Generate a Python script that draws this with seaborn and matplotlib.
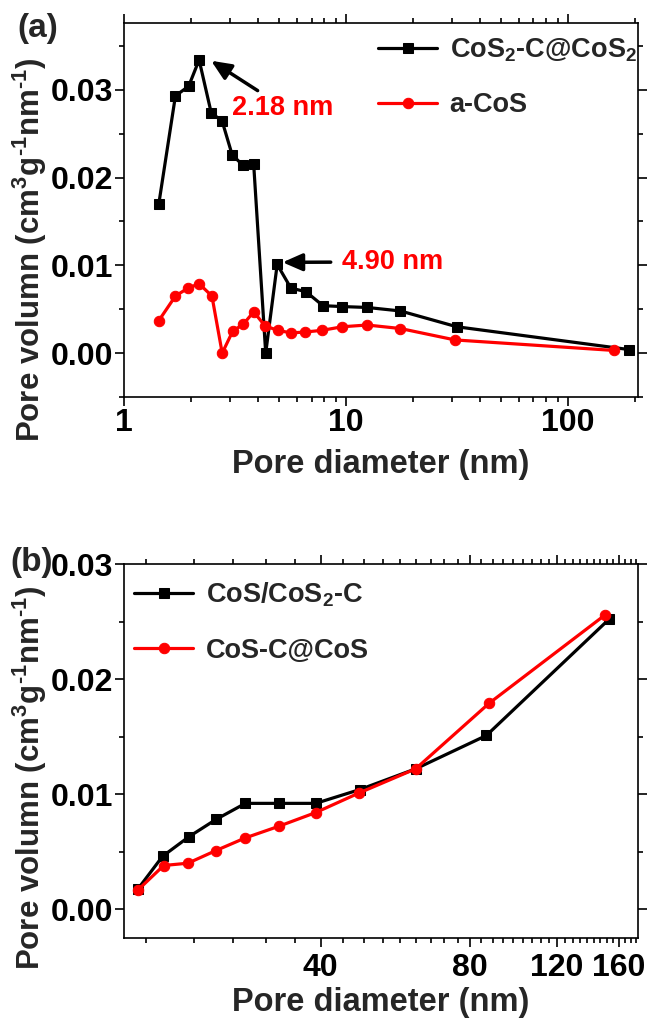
import numpy as np
import pandas as pd
import matplotlib
matplotlib.use("Agg")
import matplotlib.pyplot as plt
import matplotlib.ticker as mticker
import seaborn as sns

# ---------------- data ----------------
# panel (a)
a_black_label = r"CoS$_{2}$-C@CoS$_{2}$"
a_black_x = [1.435, 1.705, 1.956, 2.18, 2.47, 2.77, 3.07, 3.43, 3.84, 4.35, 4.90,
             5.65, 6.6, 7.88, 9.63, 12.46, 17.6, 31.6, 189]
a_black_y = [0.0170, 0.0293, 0.0304, 0.0334, 0.0274, 0.0264, 0.0226, 0.0214, 0.0215,
             0.0000, 0.0101, 0.0074, 0.0070, 0.0054, 0.0053, 0.0052, 0.0048, 0.0030, 0.0004]
a_red_label = "a-CoS"
a_red_x = [1.435, 1.705, 1.94, 2.18, 2.49, 2.77, 3.09, 3.45, 3.84, 4.32, 4.92,
           5.65, 6.55, 7.83, 9.63, 12.46, 17.6, 31.0, 162]
a_red_y = [0.0037, 0.0065, 0.0074, 0.0079, 0.0065, 0.0000, 0.0025, 0.0033, 0.0047,
           0.0031, 0.0026, 0.0023, 0.0024, 0.0026, 0.0030, 0.0032, 0.0028, 0.0015, 0.0003]

# panel (b)
b_black_label = r"CoS/CoS$_{2}$-C"
b_black_x = [17.15, 19.2, 21.7, 24.6, 28.2, 32.9, 39.1, 48.0, 62.2, 86.4, 152.7]
b_black_y = [0.0018, 0.0046, 0.0063, 0.0078, 0.0092, 0.0092, 0.0092, 0.0104, 0.0122, 0.0151, 0.0252]
b_red_label = "CoS-C@CoS"
b_red_x = [17.15, 19.3, 21.6, 24.6, 28.2, 32.9, 39.1, 47.8, 62.2, 87.5, 150.2]
b_red_y = [0.0017, 0.0038, 0.0040, 0.0051, 0.0062, 0.0072, 0.0084, 0.0101, 0.0122, 0.0179, 0.0256]

a_yticks = [0.00, 0.01, 0.02, 0.03]
b_yticks = [0.00, 0.01, 0.02, 0.03]
a_xticks = [1, 10, 100]
b_xticks = [40, 80, 120, 160]

xlabel = "Pore diameter (nm)"
ylabel = "Pore volumn (cm$^{3}$g$^{\u2010 1}$nm$^{\u2010 1}$)".replace(" 1}", "1}")

# ---------------- style ----------------
sns.set_style("ticks")
plt.rcParams["font.family"] = ["Liberation Sans", "DejaVu Sans"]
plt.rcParams["font.weight"] = "bold"
plt.rcParams["axes.labelweight"] = "bold"
plt.rcParams["mathtext.fontset"] = "custom"
plt.rcParams["mathtext.rm"] = "Liberation Sans:bold"
plt.rcParams["mathtext.it"] = "Liberation Sans:bold"
plt.rcParams["mathtext.bf"] = "Liberation Sans:bold"
plt.rcParams["mathtext.default"] = "rm"

TICK_FS = 23
XLABEL_FS = 23.5
YLABEL_FS = 22.5
LEG_FS = 19.5
ANN_FS = 19.5
LW = 2.3

fig = plt.figure(figsize=(6.51, 10.21), dpi=100)
ax1 = fig.add_axes([124/651, 1-397/1021, 514/651, 374/1021])
ax2 = fig.add_axes([124/651, 1-938/1021, 514/651, 374/1021])


def draw(ax, x, y, color, marker, ms, label):
    df = pd.DataFrame({"x": x, "y": y})
    sns.lineplot(data=df, x="x", y="y", ax=ax, color=color, lw=LW, marker=marker,
                 markersize=ms, markeredgecolor=color, markerfacecolor=color,
                 estimator=None, sort=False, label=label)


def style_axes(ax, xpad):
    for s in ax.spines.values():
        s.set_linewidth(1.2)
        s.set_color("black")
        s.set_visible(True)
    ax.tick_params(which="both", direction="out", width=1.2, colors="black",
                   top=True, right=True, labeltop=False, labelright=False)
    ax.tick_params(which="major", length=6.5)
    ax.tick_params(which="minor", length=3.5)
    ax.tick_params(axis="y", which="both", pad=1, labelsize=TICK_FS)
    ax.tick_params(axis="x", which="both", pad=xpad, labelsize=TICK_FS)
    for t in ax.get_xticklabels() + ax.get_yticklabels():
        t.set_fontweight("bold")
    ax.set_xlabel(xlabel, fontsize=XLABEL_FS, fontweight="bold")
    ax.set_ylabel(ylabel, fontsize=YLABEL_FS, fontweight="bold")


# ---------------- panel (a) ----------------
draw(ax1, a_black_x, a_black_y, "black", "s", 7, a_black_label)
draw(ax1, a_red_x, a_red_y, "#ff0000", "o", 7.5, a_red_label)
ax1.set_xscale("log")
ax1.set_xlim(1, 207)
ax1.set_ylim(-0.005, 0.0376)
ax1.xaxis.set_major_locator(mticker.FixedLocator(a_xticks))
ax1.xaxis.set_major_formatter(mticker.FixedFormatter([str(v) for v in a_xticks]))
ax1.xaxis.set_minor_locator(mticker.LogLocator(base=10, subs=np.arange(2, 10)))
ax1.xaxis.set_minor_formatter(mticker.NullFormatter())
ax1.yaxis.set_major_locator(mticker.FixedLocator(a_yticks))
ax1.yaxis.set_major_formatter(mticker.FormatStrFormatter("%.2f"))
ax1.yaxis.set_minor_locator(mticker.MultipleLocator(0.005))
style_axes(ax1, 1.5)
ax1.yaxis.set_label_coords(-0.146, 0.393)
ax1.xaxis.set_label_coords(0.5, -0.14)

arrow_kw = dict(arrowstyle="-|>,head_length=0.8,head_width=0.35", color="black",
                lw=2.5, mutation_scale=15, shrinkA=0, shrinkB=0)
ax1.annotate("", xy=(2.47, 0.0333), xytext=(4.0, 0.0299), arrowprops=arrow_kw)
ax1.text(3.08, 0.0279, "2.18 nm", color="#ff0000", fontsize=ANN_FS, fontweight="bold",
         ha="left", va="center")
ax1.annotate("", xy=(5.18, 0.01034), xytext=(8.54, 0.01036), arrowprops=arrow_kw)
ax1.text(9.6, 0.0104, "4.90 nm", color="#ff0000", fontsize=ANN_FS, fontweight="bold",
         ha="left", va="center")

leg1 = ax1.legend(loc="upper left", bbox_to_anchor=(0.494, 0.965), frameon=False,
                  fontsize=LEG_FS, handlelength=2.2, handletextpad=0.45,
                  labelspacing=1.05, borderpad=0, borderaxespad=0)
for t in leg1.get_texts():
    t.set_fontweight("bold")

fig.text(17/651, 1-28/1021, "(a)", fontsize=24, fontweight="bold", ha="left", va="center")

# ---------------- panel (b) ----------------
draw(ax2, b_black_x, b_black_y, "black", "s", 7, b_black_label)
draw(ax2, b_red_x, b_red_y, "#ff0000", "o", 7.5, b_red_label)
ax2.set_xscale("log")
ax2.set_xlim(16.05, 174.7)
ax2.set_ylim(-0.0025, 0.03)
ax2.xaxis.set_major_locator(mticker.FixedLocator(b_xticks))
ax2.xaxis.set_major_formatter(mticker.FixedFormatter([str(v) for v in b_xticks]))
minor_b = [40/9*k for k in range(4, 40) if k % 9 != 0]
ax2.xaxis.set_minor_locator(mticker.FixedLocator(minor_b))
ax2.xaxis.set_minor_formatter(mticker.NullFormatter())
ax2.yaxis.set_major_locator(mticker.FixedLocator(b_yticks))
ax2.yaxis.set_major_formatter(mticker.FormatStrFormatter("%.2f"))
ax2.yaxis.set_minor_locator(mticker.MultipleLocator(0.005))
style_axes(ax2, 4)
ax2.yaxis.set_label_coords(-0.146, 0.43)
ax2.xaxis.set_label_coords(0.5, -0.13)

leg2 = ax2.legend(loc="upper left", bbox_to_anchor=(0.019, 0.955), frameon=False,
                  fontsize=LEG_FS, handlelength=2.2, handletextpad=0.45,
                  labelspacing=1.05, borderpad=0, borderaxespad=0)
for t in leg2.get_texts():
    t.set_fontweight("bold")

fig.text(10/651, 1-562/1021, "(b)", fontsize=24, fontweight="bold", ha="left", va="center")

fig.savefig("out.png", dpi=100)
